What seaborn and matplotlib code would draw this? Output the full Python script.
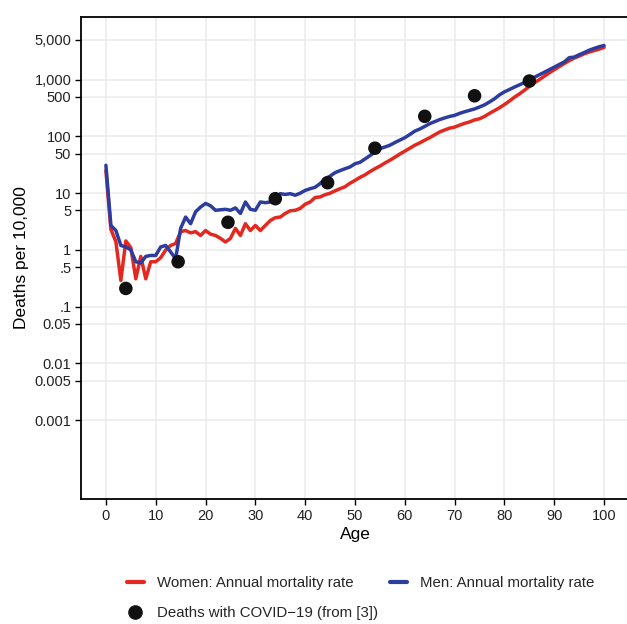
import matplotlib
matplotlib.use("Agg")
import matplotlib.pyplot as plt
from matplotlib.lines import Line2D
import numpy as np
import pandas as pd
import seaborn as sns

# Data (deaths per 10,000)
ages = list(range(0, 101))

women = [25, 2.3, 1.4, 0.29, 1.44, 1.1, 0.31, 0.77, 0.31, 0.62,
         0.62, 0.73, 1.0, 1.2, 1.3, 2.1, 2.2, 2.0, 2.1, 1.8,
         2.2, 1.9, 1.8, 1.6, 1.38, 1.6, 2.4, 1.8, 2.9, 2.2,
         2.7, 2.2, 2.7, 3.3, 3.7, 3.8, 4.4, 4.9, 5.0, 5.4,
         6.4, 7.0, 8.4, 8.6, 9.4, 10, 11, 12, 13, 15,
         16.8, 19, 21, 24, 27, 30, 34, 38, 43, 49,
         55, 62, 70, 77, 86, 95, 107, 120, 130, 140,
         146, 158, 170, 180, 195, 205, 225, 255, 285, 320,
         365, 420, 490, 560, 650, 760, 880, 1000, 1150, 1320,
         1500, 1700, 1920, 2160, 2400, 2600, 2850, 3060, 3250, 3450,
         3700]

men = [31, 2.7, 2.2, 1.2, 1.13, 1.0, 0.62, 0.59, 0.77, 0.8,
       0.8, 1.13, 1.2, 0.92, 0.70, 2.4, 3.8, 2.9, 4.7, 5.7,
       6.6, 6.0, 5.0, 5.1, 5.2, 5.0, 5.5, 4.4, 7.0, 5.2,
       5.0, 7.0, 6.8, 7.0, 7.7, 9.8, 9.5, 9.8, 9.2, 10,
       11.2, 12, 12.7, 14.8, 18, 20, 23, 25, 27, 29,
       33, 35, 40, 46, 53, 61, 65, 70, 78, 86,
       95, 108, 124, 135, 150, 168, 182, 198, 212, 225,
       235, 255, 272, 288, 305, 330, 360, 405, 460, 540,
       610, 670, 740, 810, 890, 980, 1100, 1220, 1350, 1500,
       1660, 1850, 2050, 2440, 2500, 2750, 3000, 3300, 3550, 3800,
       4000]

covid_age = [4, 14.5, 24.5, 34, 44.5, 54, 64, 74, 85]
covid_deaths = [0.21, 0.62, 3.07, 8.0, 15.3, 62, 226, 520, 945]

ytick_vals = [0.001, 0.005, 0.01, 0.05, 0.1, 0.5, 1, 5, 10, 50, 100, 500, 1000, 5000]
ytick_labels = ["0.001", "0.005", "0.01", "0.05", ".1", ".5", "1", "5", "10", "50",
                "100", "500", "1,000", "5,000"]
xtick_vals = list(range(0, 101, 10))

RED = "#e3291f"
BLUE = "#2c3d9f"
DOT = "#111111"
GRID = "#ebebeb"
TXT = "#222222"

sns.set_style("white")
plt.rcParams["font.family"] = ["Liberation Sans", "DejaVu Sans"]

df = pd.DataFrame({
    "age": ages * 2,
    "rate": women + men,
    "group": ["Women: Annual mortality rate"] * len(ages) + ["Men: Annual mortality rate"] * len(ages),
})
dots = pd.DataFrame({"age": covid_age, "deaths": covid_deaths})

W, H = 627, 624
fig = plt.figure(figsize=(W / 100, H / 100), dpi=100)
ax = fig.add_axes([81 / W, 1 - 499 / H, (629 - 81) / W, (499 - 17) / H])

sns.lineplot(data=df, x="age", y="rate", hue="group",
             palette=[RED, BLUE], linewidth=2.5, ax=ax, legend=False)
sns.scatterplot(data=dots, x="age", y="deaths", color=DOT, s=95,
                edgecolor="none", ax=ax, zorder=5, legend=False)

ax.set_yscale("log")
ax.set_ylim(4.1e-5, 12700)
ax.set_xlim(-5, 105)
ax.set_yticks(ytick_vals)
ax.set_yticklabels(ytick_labels)
ax.minorticks_off()
ax.set_xticks(xtick_vals)
ax.set_xticklabels([str(v) for v in xtick_vals])

ax.grid(True, color=GRID, linewidth=1.1)
ax.set_axisbelow(True)
for side in ["left", "bottom", "top"]:
    ax.spines[side].set_color("black")
    ax.spines[side].set_linewidth(1.3)
ax.spines["right"].set_visible(False)

ax.tick_params(axis="both", which="major", length=4, width=1, color="black",
               labelsize=10.5, labelcolor=TXT, pad=3, left=True, bottom=True)

ax.set_xlabel("Age", fontsize=12.5, color="black", labelpad=3)
ax.set_ylabel("Deaths per 10,000", fontsize=12.5, color="black", labelpad=4)

handles = [
    Line2D([0], [0], color=RED, linewidth=3),
    Line2D([0], [0], marker="o", color="none", markerfacecolor=DOT,
           markeredgecolor=DOT, markersize=9.5),
    Line2D([0], [0], color=BLUE, linewidth=3),
]
labels = ["Women: Annual mortality rate", "Deaths with COVID\u221219 (from [3])",
          "Men: Annual mortality rate"]
fig.legend(handles, labels, ncol=2, frameon=False, loc="upper left",
           bbox_to_anchor=(127 / W, 1 - 576 / H), fontsize=10.8,
           handlelength=1.13, handletextpad=0.87, columnspacing=0.8,
           labelspacing=1.05, borderpad=0, borderaxespad=0)

fig.savefig("out.png", dpi=100, facecolor="white")
plt.close(fig)
